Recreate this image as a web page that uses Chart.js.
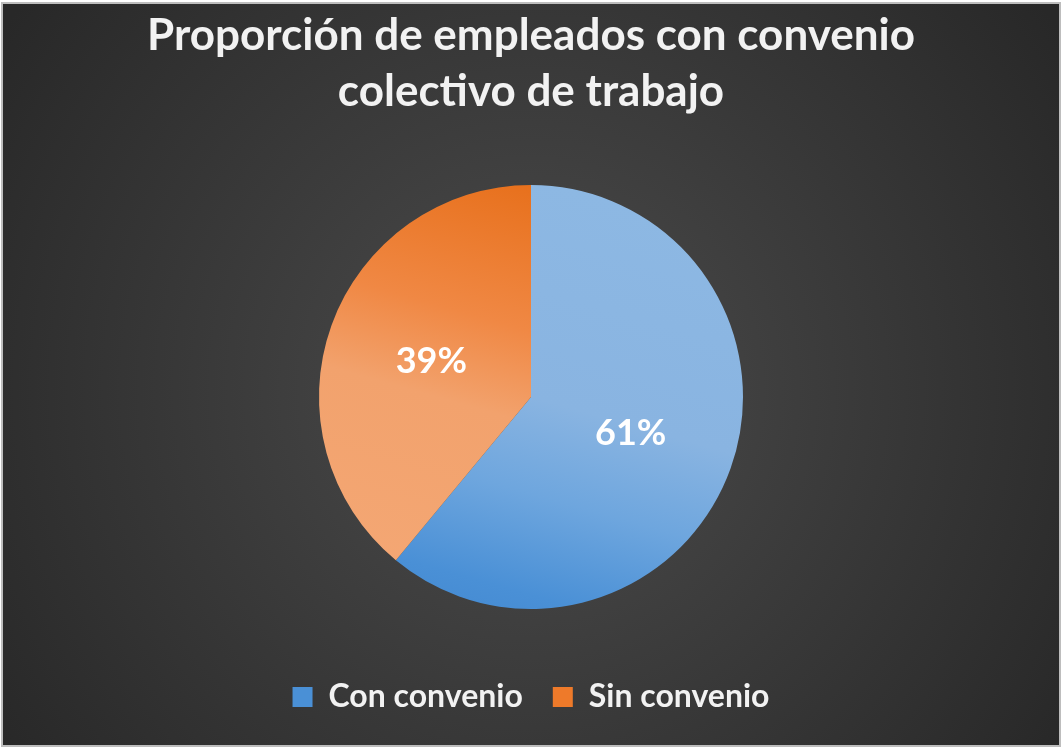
<!DOCTYPE html>
<html>
<head>
<meta charset="utf-8">
<script src="https://cdn.jsdelivr.net/npm/chart.js@4"></script>
<style>
  html, body { margin: 0; padding: 0; background: #ffffff; }
  #wrap { width: 1062px; height: 748px; }
</style>
</head>
<body>
<div id="wrap"><canvas id="pie-chart" width="1062" height="748"></canvas></div>
<script>
// Chart data
const categories = ['Con convenio', 'Sin convenio'];
const shares = [61, 39];
const legendColors = ['#4a90d6', '#ee7a2a'];
const titleLines = ['Proporción de empleados con convenio', 'colectivo de trabajo'];

// Both slices share one slightly tilted top-to-bottom gradient direction
function sliceGradient(chart, index) {
    const area = chart.chartArea;
    if (!area) return legendColors[index];
    const cx = (area.left + area.right) / 2;
    const cy = (area.top + area.bottom) / 2;
    const r = 212;
    const dx = -0.27, dy = 0.963;
    const g = chart.ctx.createLinearGradient(cx - dx * r, cy - dy * r, cx + dx * r, cy + dy * r);
    if (index === 0) {
        g.addColorStop(0, '#8db8e3');
        g.addColorStop(0.5, '#89b4e1');
        g.addColorStop(0.72, '#6ea6de');
        g.addColorStop(0.95, '#4a90d6');
        g.addColorStop(1, '#478dd4');
    } else {
        g.addColorStop(0, '#e76f1a');
        g.addColorStop(0.35, '#f08844');
        g.addColorStop(0.56, '#f2a26d');
        g.addColorStop(1, '#f4a774');
    }
    return g;
}

// Dark radial background with a thin light frame
const backgroundPlugin = {
    id: 'backgroundPlugin',
    beforeDraw(chart) {
        const ctx = chart.ctx;
        const w = chart.width, h = chart.height;
        ctx.save();
        ctx.fillStyle = '#ffffff';
        ctx.fillRect(0, 0, w, h);
        const g = ctx.createRadialGradient(531, 390, 0, 531, 390, 640);
        g.addColorStop(0, '#4c4c4c');
        g.addColorStop(1, '#282828');
        ctx.fillStyle = g;
        ctx.fillRect(2, 3, w - 4, h - 5);
        ctx.strokeStyle = '#bdbdbd';
        ctx.lineWidth = 2;
        ctx.strokeRect(2, 3, w - 4, h - 5);
        ctx.restore();
    }
};

// Percent labels inside each slice
const sliceLabels = {
    id: 'sliceLabels',
    afterDatasetsDraw(chart) {
        const ctx = chart.ctx;
        const meta = chart.getDatasetMeta(0);
        const total = shares.reduce((a, b) => a + b, 0);
        ctx.save();
        ctx.font = 'bold 36px Lato';
        ctx.fillStyle = '#ffffff';
        ctx.textAlign = 'center';
        ctx.textBaseline = 'middle';
        meta.data.forEach((arc, i) => {
            const pos = arc.tooltipPosition();
            ctx.fillText(Math.round(shares[i] / total * 100) + '%', pos.x, pos.y);
        });
        ctx.restore();
    }
};

const ctx = document.getElementById('pie-chart').getContext('2d');
new Chart(ctx, {
    type: 'pie',
    data: {
        labels: categories,
        datasets: [{
            data: shares,
            backgroundColor: (c) => sliceGradient(c.chart, c.dataIndex),
            borderWidth: 0,
            radius: 212
        }]
    },
    options: {
        responsive: false,
        animation: false,
        layout: { padding: { top: 0, bottom: 25, left: 0, right: 0 } },
        plugins: {
            title: {
                display: true,
                text: titleLines,
                color: '#f2f2f2',
                font: { family: 'Lato', size: 44, weight: 'bold', lineHeight: 1.2727 },
                padding: { top: 8, bottom: 23 }
            },
            legend: {
                position: 'bottom',
                labels: {
                    color: '#f2f2f2',
                    font: { family: 'Lato', size: 32, weight: 'bold' },
                    boxWidth: 20,
                    boxHeight: 20,
                    padding: 30,
                    generateLabels(chart) {
                        return categories.map((name, i) => ({
                            text: name,
                            fillStyle: legendColors[i],
                            strokeStyle: legendColors[i],
                            lineWidth: 0,
                            fontColor: '#f2f2f2',
                            index: i,
                            hidden: false
                        }));
                    }
                }
            },
            tooltip: { enabled: false }
        }
    },
    plugins: [backgroundPlugin, sliceLabels]
});
</script>
</body>
</html>
